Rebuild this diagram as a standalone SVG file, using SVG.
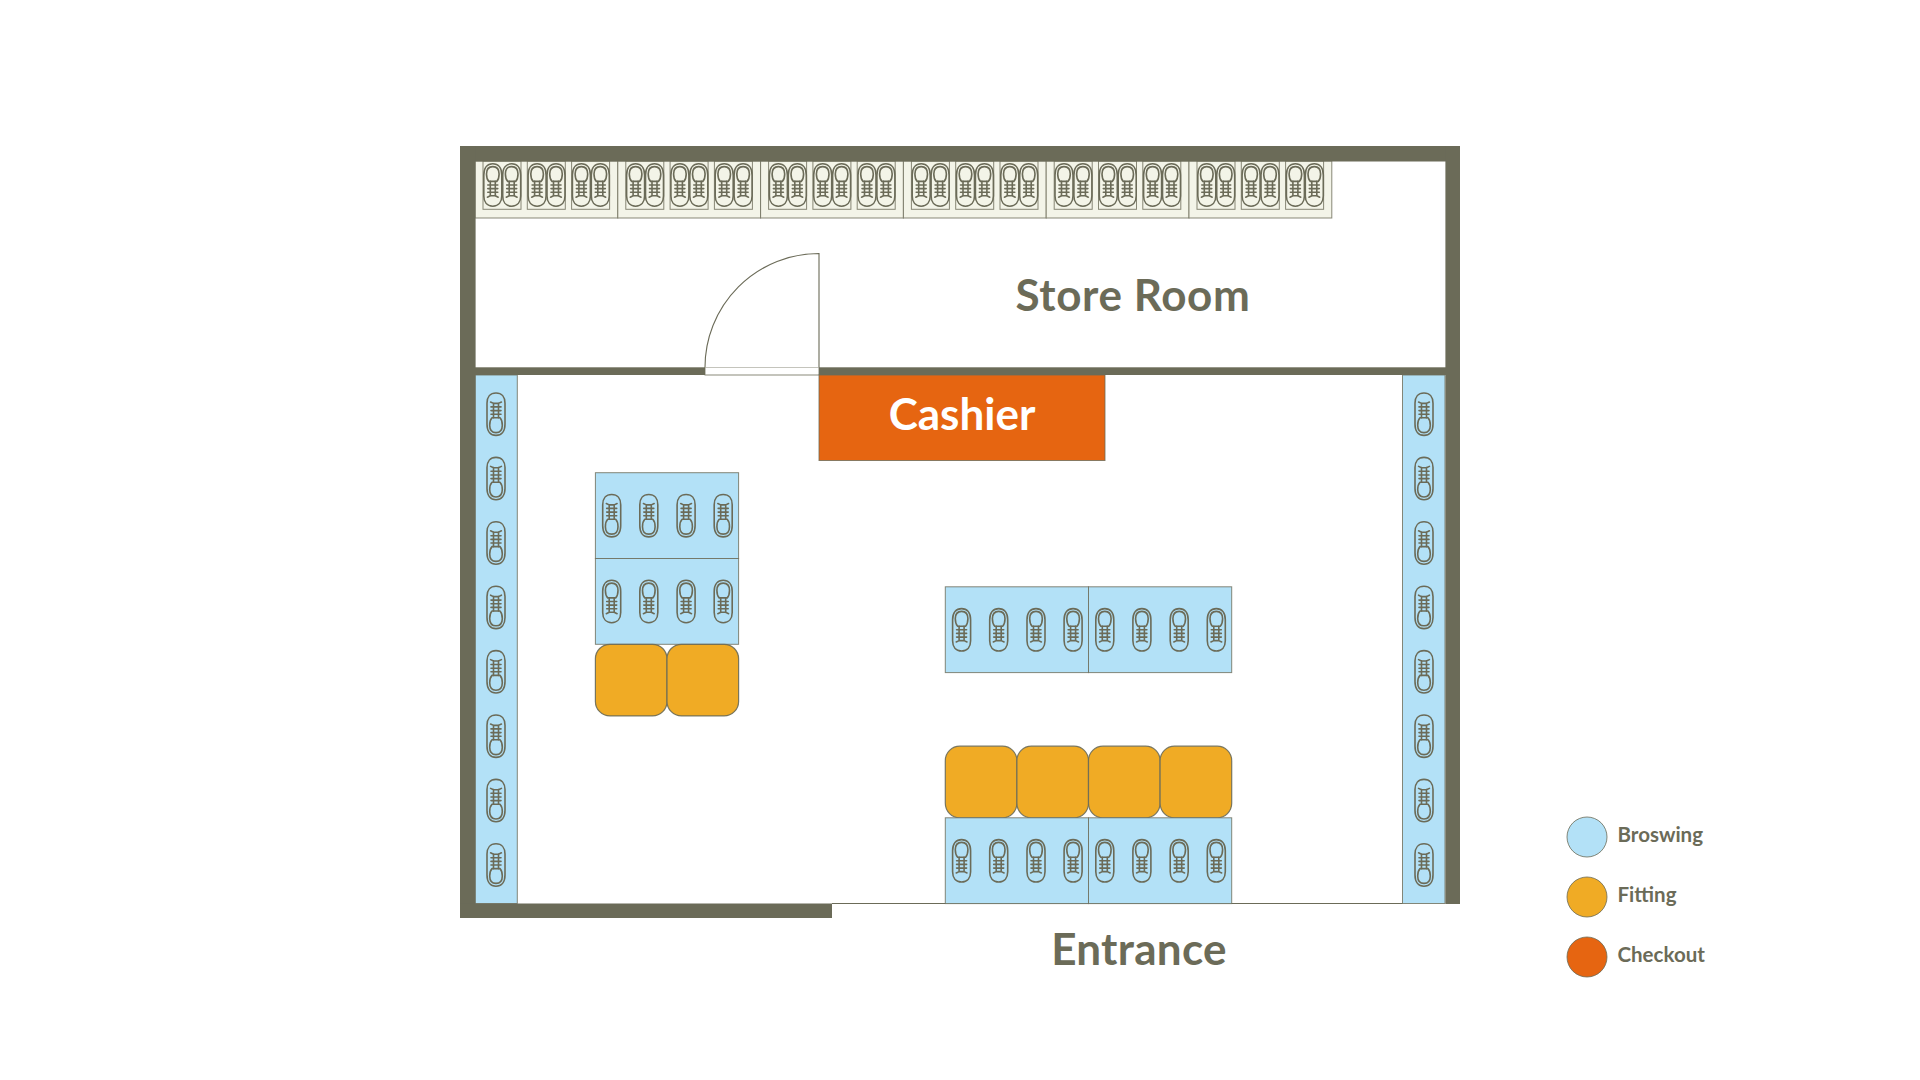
<svg xmlns="http://www.w3.org/2000/svg" xmlns:xlink="http://www.w3.org/1999/xlink" width="1920" height="1080" viewBox="0 0 1920 1080">
<style>
.wall{fill:#6b6b58}
.edge{stroke:#6b6b58;stroke-width:1;stroke-opacity:.8}
.browse{fill:#b3e1f7}
.fit{fill:#f0ab25}
.check{fill:#e66511}
.shelf{fill:#f3f4e8}
.box{fill:none}
.seat{fill:#f0ab25;stroke:#6b6b58;stroke-width:1.2;stroke-opacity:.9}
.sh{fill:none;stroke:#6b6b58;stroke-width:1.6;stroke-linecap:round;stroke-linejoin:round}
text{font-family:"Lato","Noto Sans","Liberation Sans",sans-serif;font-weight:700;fill:#6b6b58}
.big{font-size:44px}
.leg{font-size:20.5px}
</style>
<defs>
<g id="shoe">
<path class="sh" d="M0-21.2C5.8-21.2 9-17 9-11V10C9 17 5.5 21.2 0 21.2S-9 17-9 10V-11C-9-17-5.8-21.2 0-21.2Z"/>
<path class="sh" d="M-4 3.6C-5.8 5.5-6.3 7.5-6.3 11C-6.3 16-3.8 18.4 0 18.4S6.3 16 6.3 11C6.3 7.5 5.8 5.5 4 3.6Z"/>
<path class="sh" d="M-2.5-11V3.6M2.5-11V3.6M-5.4-12.2L-2.5-10.8H2.5L5.4-12.2M-5-7.3H5M-5-3.6H5M-5 0H5"/>
</g>
<g id="shoeUp"><use href="#shoe" transform="rotate(180)"/></g>
<g id="pair">
<rect class="box edge" x="0" y="0" width="38" height="48.3"/>
<use href="#shoeUp" transform="translate(9.8,24)"/>
<use href="#shoeUp" transform="translate(28.7,24)"/>
</g>
<g id="shelfCell">
<rect class="shelf edge" x="0" y="0" width="142.8" height="57"/>
<use href="#pair" x="8"/>
<use href="#pair" x="52.3"/>
<use href="#pair" x="96.6"/>
</g>
<g id="tableDown">
<rect class="browse edge" x="0" y="0" width="143.2" height="85.8"/>
<use href="#shoe" transform="translate(16.3,43)"/>
<use href="#shoe" transform="translate(53.4,43)"/>
<use href="#shoe" transform="translate(90.7,43)"/>
<use href="#shoe" transform="translate(127.8,43)"/>
</g>
<g id="tableUp">
<rect class="browse edge" x="0" y="0" width="143.2" height="85.8"/>
<use href="#shoeUp" transform="translate(16.3,43)"/>
<use href="#shoeUp" transform="translate(53.4,43)"/>
<use href="#shoeUp" transform="translate(90.7,43)"/>
<use href="#shoeUp" transform="translate(127.8,43)"/>
</g>
<g id="strip">
<use href="#shoe" y="0"/>
<use href="#shoe" y="64.4"/>
<use href="#shoe" y="128.8"/>
<use href="#shoe" y="193.2"/>
<use href="#shoe" y="257.6"/>
<use href="#shoe" y="322"/>
<use href="#shoe" y="386.4"/>
<use href="#shoe" y="450.8"/>
</g>
<rect id="seat" class="seat" x="0" y="0" width="71.6" height="71.6" rx="14.5" ry="14.5"/>
</defs>
<rect width="1920" height="1080" fill="#fff"/>

<g id="store-shelves">
<use href="#shelfCell" transform="translate(475,161)"/>
<use href="#shelfCell" transform="translate(617.8,161)"/>
<use href="#shelfCell" transform="translate(760.6,161)"/>
<use href="#shelfCell" transform="translate(903.4,161)"/>
<use href="#shelfCell" transform="translate(1046.2,161)"/>
<use href="#shelfCell" transform="translate(1189,161)"/>
</g>

<g id="left-strip">
<rect class="browse edge" x="475" y="375" width="42.3" height="528.5"/>
<use href="#strip" transform="translate(496,414.2)"/>
</g>
<g id="right-strip">
<rect class="browse edge" x="1402.5" y="375" width="42.5" height="528.5"/>
<use href="#strip" transform="translate(1424,414.2)"/>
</g>

<g id="entrance-line"><line class="edge" x1="832" y1="903.5" x2="1402.5" y2="903.5" style="stroke-opacity:1"/></g>

<g id="walls">
<rect class="wall" x="460" y="146" width="1000" height="15.5"/>
<rect class="wall" x="460" y="146" width="15.6" height="772"/>
<rect class="wall" x="1445.4" y="146" width="14.6" height="758"/>
<rect class="wall" x="460" y="903.5" width="372" height="14.5"/>
<rect class="wall" x="475" y="367.3" width="230" height="7.7"/>
<rect class="wall" x="819" y="367.3" width="627" height="7.7"/>
</g>

<g id="door">
<rect x="705" y="367.5" width="114" height="7.5" fill="#fff" class="edge"/>
<path d="M705 367.5A114 114 0 0 1 819 253.5V367.5" fill="#fff" stroke="#6b6b58" stroke-width="1.1"/>
</g>

<g id="cashier">
<rect class="check edge" x="819" y="375" width="286" height="85.5"/>
<text class="big" x="962" y="430" text-anchor="middle" style="fill:#fff">Cashier</text>
</g>

<g id="table-left">
<use href="#tableDown" transform="translate(595.4,472.7)"/>
<use href="#tableUp" transform="translate(595.4,558.5)"/>
<use href="#seat" transform="translate(595.4,644.3)"/>
<use href="#seat" transform="translate(667,644.3)"/>
</g>

<g id="table-middle">
<use href="#tableUp" transform="translate(945.3,586.8)"/>
<use href="#tableUp" transform="translate(1088.5,586.8)"/>
</g>

<g id="table-bottom">
<use href="#seat" transform="translate(945.3,746.2)"/>
<use href="#seat" transform="translate(1016.9,746.2)"/>
<use href="#seat" transform="translate(1088.5,746.2)"/>
<use href="#seat" transform="translate(1160.1,746.2)"/>
<use href="#tableUp" transform="translate(945.3,817.8)"/>
<use href="#tableUp" transform="translate(1088.5,817.8)"/>
</g>

<g id="labels">
<text class="big" x="1133" y="311" text-anchor="middle" style="letter-spacing:.6px">Store Room</text>
<text class="big" x="1139" y="965" text-anchor="middle" style="letter-spacing:.3px">Entrance</text>
</g>

<g id="legend">
<g id="legend-browsing"><circle class="browse edge" cx="1587" cy="837" r="20"/><text class="leg" x="1617.5" y="841.7">Broswing</text></g>
<g id="legend-fitting"><circle class="fit edge" cx="1587" cy="897" r="20"/><text class="leg" x="1617.5" y="901.7">Fitting</text></g>
<g id="legend-checkout"><circle class="check edge" cx="1587" cy="957" r="20"/><text class="leg" x="1617.5" y="961.7">Checkout</text></g>
</g>
</svg>
